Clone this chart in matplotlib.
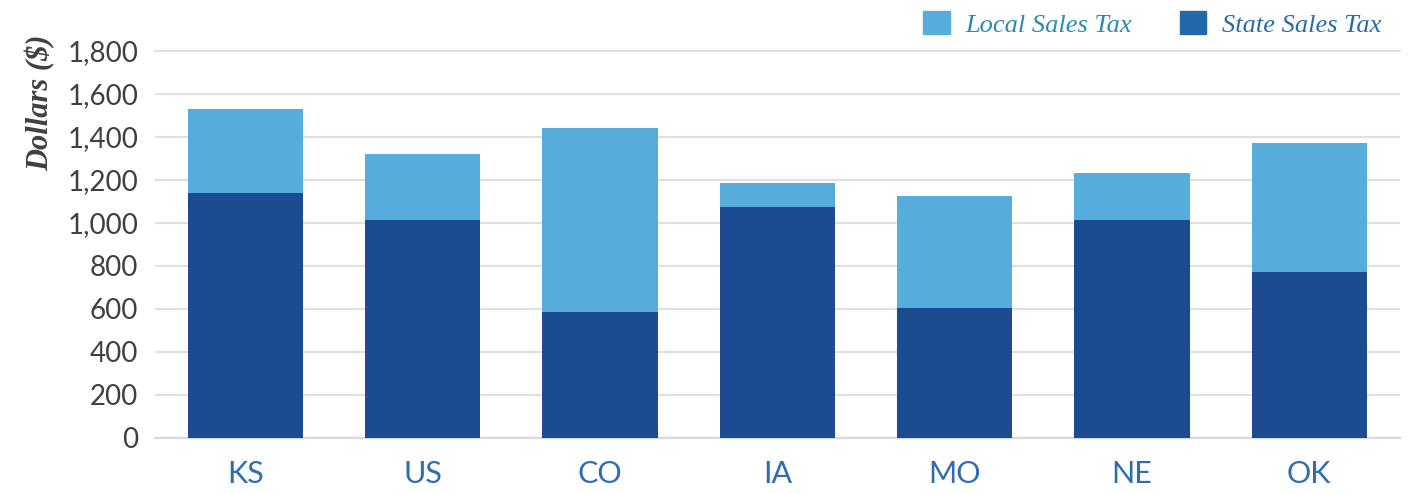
import matplotlib.pyplot as plt
from matplotlib.patches import Patch

# Sales tax per household, by state
states = ['KS', 'US', 'CO', 'IA', 'MO', 'NE', 'OK']
state_tax = [1140, 1014, 584, 1075, 603, 1014, 771]
local_tax = [388, 308, 856, 112, 524, 220, 603]

state_color = '#1d4b91'
local_color = '#56addb'

fig = plt.figure(figsize=(14.24, 4.94), dpi=100)
ax = fig.add_axes([0.1088, 0.114, 0.8742, 0.7828])

x = range(len(states))
ax.bar(x, state_tax, width=0.65, color=state_color, zorder=3)
ax.bar(x, local_tax, width=0.65, bottom=state_tax, color=local_color, zorder=3)

ax.set_xlim(-0.51, 6.51)
ax.set_ylim(0, 1800)
ax.set_yticks(range(0, 1801, 200))
ax.set_yticklabels([f'{v:,}' for v in range(0, 1801, 200)],
                   fontfamily='Lato', fontsize=20, color='#404040')
ax.set_xticks(list(x))
ax.set_xticklabels(states, fontfamily='Lato', fontsize=22, color='#2e6db0')
ax.tick_params(axis='both', length=0)
ax.tick_params(axis='y', pad=12)
ax.tick_params(axis='x', pad=16)

ax.grid(axis='y', color='#e0e0e0', linewidth=1.6, zorder=0)
ax.yaxis.get_gridlines()[-1].set_clip_on(False)
for side in ['top', 'right', 'left']:
    ax.spines[side].set_visible(False)
ax.spines['bottom'].set_color('#d9d9d9')
ax.spines['bottom'].set_linewidth(1.6)

# axis title sits at the top of the value axis
fig.text(0.028, 1 - 103 / 494, 'Dollars ($)', rotation=90, ha='center', va='center',
         fontfamily='Liberation Serif', fontstyle='italic', fontweight='bold',
         fontsize=22, color='#404040')

handles = [Patch(color=local_color), Patch(color='#2369aa')]
leg = ax.legend(handles, ['Local Sales Tax', 'State Sales Tax'], ncol=2,
                loc='lower right', bbox_to_anchor=(0.9936, 1.01), frameon=False,
                prop={'family': 'Liberation Serif', 'style': 'italic', 'size': 19},
                handlelength=1.0, handleheight=1.0, handletextpad=0.6,
                columnspacing=1.8, borderaxespad=0)
leg.get_texts()[0].set_color('#2b8aae')
leg.get_texts()[1].set_color('#2a6aaa')

plt.savefig('out.png', dpi=100)
